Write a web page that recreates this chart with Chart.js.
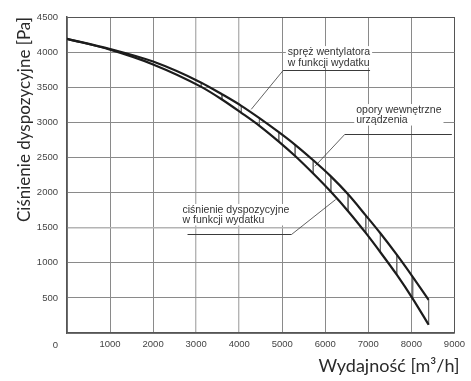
<!DOCTYPE html>
<html>
<head>
<meta charset="utf-8">
<script src="https://cdn.jsdelivr.net/npm/chart.js@4/dist/chart.umd.min.js"></script>
<style>
  html, body { margin: 0; padding: 0; background: #ffffff; }
  #wrap { width: 471px; height: 381px; }
</style>
</head>
<body>
<div id="wrap"><canvas id="c" width="471" height="381"></canvas></div>
<script>
// Air flow [m³/h] at which both curves are given
const flow = [0, 1000, 2000, 3120, 3600, 4050, 4470, 4920, 5300, 5720, 6130, 6530, 6940, 7280, 7660, 8030, 8400];
// Fan static pressure vs. flow [Pa]
const fanPressure = [4190, 4045, 3865, 3565, 3400, 3235, 3060, 2860, 2680, 2460, 2230, 1975, 1675, 1420, 1115, 800, 473];
// Available external pressure vs. flow [Pa]
const availablePressure = [4190, 4035, 3825, 3505, 3325, 3135, 2950, 2725, 2520, 2270, 2010, 1735, 1425, 1150, 830, 490, 118];
// Axis ticks
const flowTicks = [0, 1000, 2000, 3000, 4000, 5000, 6000, 7000, 8000, 9000];
const pressureTicks = [0, 500, 1000, 1500, 2000, 2500, 3000, 3500, 4000, 4500];
// First flow point from which the internal-loss band is hatched
const hatchFrom = 3;

const fanSeries = flow.map((x, i) => ({ x, y: fanPressure[i] }));
const availSeries = flow.map((x, i) => ({ x, y: availablePressure[i] }));
const hatchSeries = [];
for (let i = hatchFrom; i < flow.length; i++) {
  hatchSeries.push({ x: flow[i], y: fanPressure[i] });
  hatchSeries.push({ x: flow[i], y: availablePressure[i] });
  hatchSeries.push({ x: flow[i], y: null });
}

const tickFont = { family: '"Liberation Sans", Arial, sans-serif', size: 9.5 };
const lightX = [3000, 4000];
const lightY = [1500];
const flowTitle = 'Wydajność [m³/h]';

// Callout labels, anchored in data units
const callouts = [
  { lines: ['spręż wentylatora', 'w funkcji wydatku'], text: [5130, 4000],
    rule: [5020, 7040, 3745], tip: [4280, 3185] },
  { lines: ['opory wewnętrzne', 'urządzenia'], text: [6720, 3175],
    rule: [6450, 8940, 2840], tip: [5760, 2375] },
  { lines: ['ciśnienie dyspozycyjne', 'w funkcji wydatku'], text: [2684, 1752],
    rule: [2800, 5215, 1410], tip: [6240, 1900] }
];

const calloutPlugin = {
  id: 'callouts',
  beforeDatasetsDraw(chart) {
    const { ctx, scales: { x, y } } = chart;
    ctx.save();
    ctx.font = '10.5px "Liberation Sans", Arial, sans-serif';
    ctx.textBaseline = 'middle';
    ctx.textAlign = 'left';
    callouts.forEach(c => {
      const tx = x.getPixelForValue(c.text[0]);
      const ty = y.getPixelForValue(c.text[1]);
      const lh = 10.5;
      const w = Math.max(...c.lines.map(l => ctx.measureText(l).width));
      ctx.fillStyle = '#ffffff';
      ctx.fillRect(tx - 2, ty - 6, w + 4, lh * (c.lines.length - 1) + 11);
      ctx.fillStyle = '#333333';
      c.lines.forEach((l, k) => ctx.fillText(l, tx, ty + k * lh));
      const rx0 = x.getPixelForValue(c.rule[0]);
      const rx1 = x.getPixelForValue(c.rule[1]);
      const ry = Math.round(y.getPixelForValue(c.rule[2])) + 0.5;
      const px = x.getPixelForValue(c.tip[0]);
      const py = y.getPixelForValue(c.tip[1]);
      ctx.strokeStyle = '#3a3a3a';
      ctx.lineWidth = 1;
      ctx.beginPath();
      ctx.moveTo(rx0, ry);
      ctx.lineTo(rx1, ry);
      ctx.stroke();
      ctx.lineWidth = 0.8;
      ctx.beginPath();
      const ax = c.tip[0] < c.rule[0] ? rx0 : rx1;
      ctx.moveTo(ax, ry);
      ctx.lineTo(px, py);
      ctx.stroke();
    });
    ctx.restore();
  },
  afterDraw(chart) {
    const { ctx, scales: { x, y } } = chart;
    ctx.save();
    // Shared origin label, placed on the row of the flow ticks
    ctx.font = '9.5px "Liberation Sans", Arial, sans-serif';
    ctx.fillStyle = '#444444';
    ctx.textAlign = 'right';
    ctx.textBaseline = 'middle';
    ctx.fillText(String(pressureTicks[0]), y.right - 9, x.top + 12);
    // Flow axis title, right-aligned just past the plot frame
    ctx.font = '18px Lato, sans-serif';
    ctx.fillStyle = '#2a2a2a';
    ctx.fillText(flowTitle, x.right + 5, x.top + 33);
    ctx.restore();
  }
};

new Chart(document.getElementById('c'), {
  type: 'line',
  data: {
    datasets: [
      { data: fanSeries, borderColor: '#1c1c1c', borderWidth: 2.2, pointRadius: 0,
        cubicInterpolationMode: 'monotone', fill: false },
      { data: availSeries, borderColor: '#1c1c1c', borderWidth: 2.2, pointRadius: 0,
        cubicInterpolationMode: 'monotone', fill: false },
      { data: hatchSeries, borderColor: '#707070', borderWidth: 1, pointRadius: 0,
        tension: 0, spanGaps: false, fill: false }
    ]
  },
  options: {
    responsive: false,
    devicePixelRatio: 1,
    animation: false,
    events: [],
    layout: { padding: { top: 17, right: 9, left: 0, bottom: 0 } },
    plugins: { legend: { display: false }, tooltip: { enabled: false } },
    scales: {
      x: {
        type: 'linear', min: 0, max: 9000,
        afterBuildTicks: s => { s.ticks = flowTicks.map(v => ({ value: v })); },
        afterFit: s => { s.height = 48; },
        ticks: {
          callback: v => (v === 0 ? '' : String(v)),
          font: tickFont, color: '#444444', padding: 6, maxRotation: 0, autoSkip: false
        },
        grid: {
          drawTicks: false,
          color: c => (c.tick && lightX.includes(c.tick.value) ? '#b4b4b4' : (c.tick && c.tick.value === 9000 ? '#555555' : '#8a8a8a')),
          lineWidth: c => (c.tick && lightX.includes(c.tick.value) ? 1.4 : 1)
        },
        border: { color: '#555555', width: 1.5 },
        title: { display: false }
      },
      y: {
        type: 'linear', min: 0, max: 4500,
        afterBuildTicks: s => { s.ticks = pressureTicks.map(v => ({ value: v })); },
        afterFit: s => { s.width = 67; },
        ticks: {
          callback: v => (v === 0 ? '' : String(v)),
          font: tickFont, color: '#444444', padding: 9, autoSkip: false
        },
        grid: {
          drawTicks: false,
          color: c => (c.tick && lightY.includes(c.tick.value) ? '#b4b4b4' : (c.tick && c.tick.value === 4500 ? '#555555' : '#8a8a8a')),
          lineWidth: c => (c.tick && lightY.includes(c.tick.value) ? 1.6 : 1)
        },
        border: { color: '#555555', width: 1.5 },
        title: {
          display: true, text: 'Ciśnienie dyspozycyjne [Pa]', align: 'end',
          font: { family: 'Lato, sans-serif', size: 17 }, color: '#2a2a2a',
          padding: { top: 14, bottom: 0 }
        }
      }
    }
  },
  plugins: [calloutPlugin]
});
</script>
</body>
</html>
